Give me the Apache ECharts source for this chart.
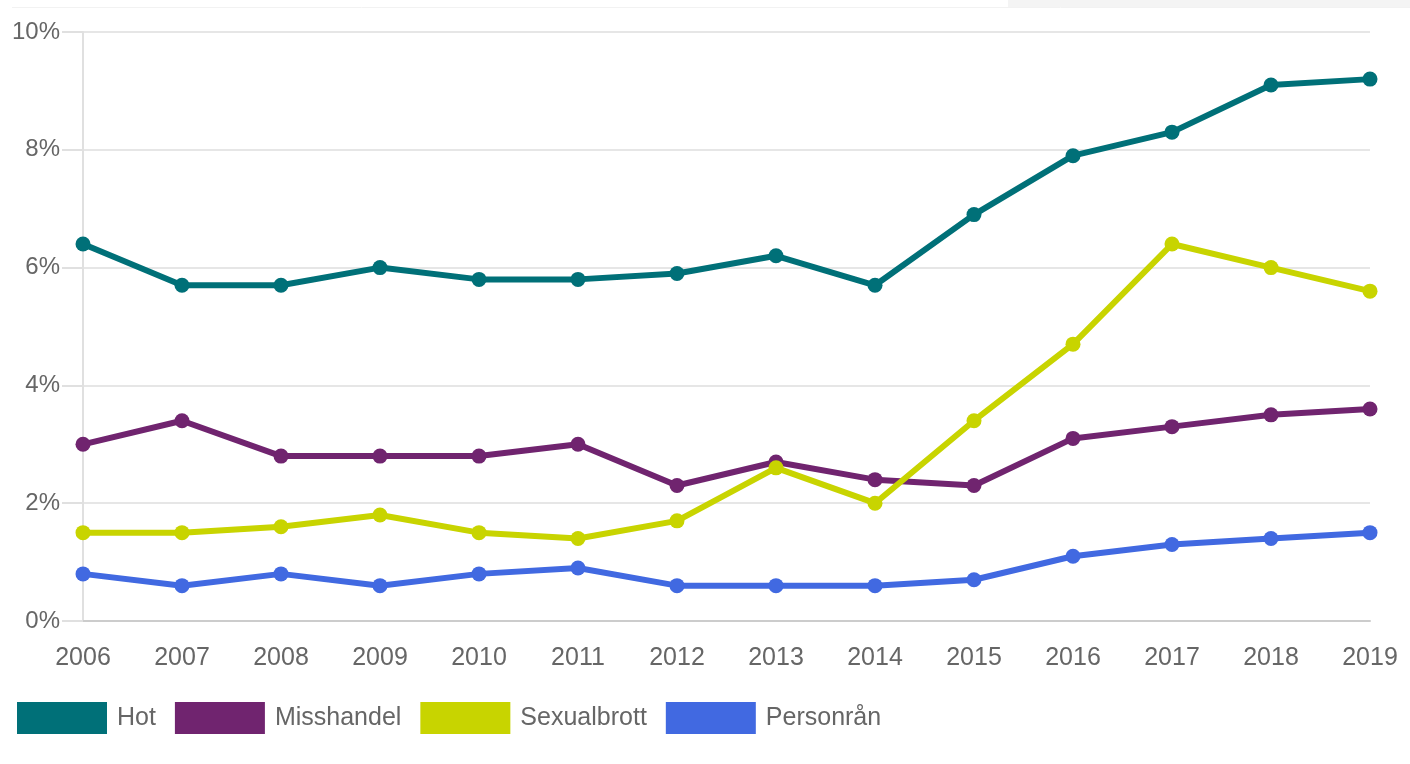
<!DOCTYPE html>
<html>
<head>
<meta charset="utf-8">
<script src="https://cdn.jsdelivr.net/npm/echarts@6/dist/echarts.min.js"></script>
<style>
html,body{margin:0;padding:0;background:#fff;}
#c{width:1410px;height:764px;}
</style>
</head>
<body>
<div id="c"></div>
<script>
const years = ['2006','2007','2008','2009','2010','2011','2012','2013','2014','2015','2016','2017','2018','2019'];
const hot = [6.4, 5.7, 5.7, 6.0, 5.8, 5.8, 5.9, 6.2, 5.7, 6.9, 7.9, 8.3, 9.1, 9.2];
const misshandel = [3.0, 3.4, 2.8, 2.8, 2.8, 3.0, 2.3, 2.7, 2.4, 2.3, 3.1, 3.3, 3.5, 3.6];
const sexualbrott = [1.5, 1.5, 1.6, 1.8, 1.5, 1.4, 1.7, 2.6, 2.0, 3.4, 4.7, 6.4, 6.0, 5.6];
const personran = [0.8, 0.6, 0.8, 0.6, 0.8, 0.9, 0.6, 0.6, 0.6, 0.7, 1.1, 1.3, 1.4, 1.5];
const seriesNames = ['Hot', 'Misshandel', 'Sexualbrott', 'Personrån'];
const colors = ['#007078', '#70246f', '#c8d400', '#4169e1'];
const seriesData = [hot, misshandel, sexualbrott, personran];

const chart = echarts.init(document.getElementById('c'));
const font = '"Liberation Sans", Arial, sans-serif';
chart.setOption({
  animation: false,
  textStyle: {fontFamily: font},
  color: colors,
  graphic: [
    {type: 'rect', shape: {x: 1008, y: 0, width: 402, height: 7}, style: {fill: '#f4f4f4'}},
    {type: 'line', shape: {x1: 12, y1: 7.5, x2: 1410, y2: 7.5}, style: {stroke: '#f2f2f2', lineWidth: 1}}
  ],
  grid: {left: 83, right: 40, top: 32, bottom: 143, containLabel: false},
  legend: {
    left: 17, top: 702, padding: 0,
    itemWidth: 90, itemHeight: 32, itemGap: 19,
    icon: 'rect',
    textStyle: {fontSize: 25, color: '#666', fontFamily: font, padding: [0, 0, 0, 5]},
    data: seriesNames
  },
  xAxis: {
    type: 'category',
    data: years,
    boundaryGap: false,
    axisLine: {lineStyle: {color: '#cccccc', width: 2}},
    axisTick: {show: false},
    axisLabel: {fontSize: 25, color: '#666', margin: 25, fontFamily: font},
    splitLine: {show: false}
  },
  yAxis: {
    type: 'value',
    min: 0, max: 10, interval: 2,
    axisLine: {show: true, lineStyle: {color: '#e0e0e0', width: 2}},
    axisTick: {show: true, length: 21, lineStyle: {color: '#e0e0e0', width: 2}},
    axisLabel: {fontSize: 24, color: '#666', margin: 23, formatter: '{value}%', fontFamily: font},
    splitLine: {lineStyle: {color: '#e6e6e6', width: 2}}
  },
  series: seriesNames.map((n, i) => ({
    name: n,
    type: 'line',
    data: seriesData[i],
    symbol: 'circle',
    symbolSize: 15,
    lineStyle: {width: 6, color: colors[i]},
    itemStyle: {color: colors[i]}
  }))
});
</script>
</body>
</html>
